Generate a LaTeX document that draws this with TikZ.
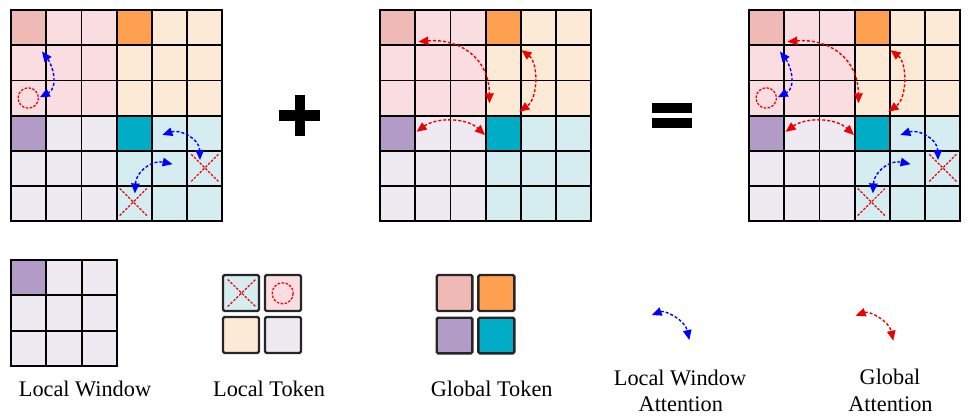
\documentclass[tikz,border=0pt]{standalone}
\usepackage{fontspec}
\setmainfont{Liberation Serif}
\usetikzlibrary{arrows.meta}
\definecolor{pinkL}{HTML}{FADDE1}
\definecolor{pinkG}{HTML}{EFB9B5}
\definecolor{peachL}{HTML}{FDEAD6}
\definecolor{orangeG}{HTML}{FFA050}
\definecolor{lavL}{HTML}{EFEAF2}
\definecolor{purpleG}{HTML}{B39BC7}
\definecolor{cyanL}{HTML}{D5EDF1}
\definecolor{tealG}{HTML}{00ACC6}
\definecolor{attBlue}{HTML}{0000FF}
\definecolor{attRed}{HTML}{EE0000}
\tikzset{
  cellline/.style={draw=black, line width=1.8pt},
  attn/.style={line width=1.4pt, dash pattern=on 3pt off 2pt,
    {Triangle[length=10pt,width=8.5pt]}-{Triangle[length=10pt,width=8.5pt]}},
  localatt/.style={attn, draw=attBlue},
  globalatt/.style={attn, draw=attRed},
  xmk/.style={draw=attRed, line width=1.2pt, dash pattern=on 2.5pt off 1.5pt},
  lbl/.style={font=\fontsize{22.3}{26.7}\selectfont, anchor=base, inner sep=0pt},
  tokbox/.style={draw=black!85, line width=2.4pt, rounded corners=1.5pt},
  symb/.style={fill=black}
}
\newcommand\tokengrid{%
  \fill[pinkL] (0,0) rectangle (3,3);
  \fill[peachL] (3,0) rectangle (6,3);
  \fill[lavL] (0,3) rectangle (3,6);
  \fill[cyanL] (3,3) rectangle (6,6);
  \fill[pinkG] (0,0) rectangle (1,1);
  \fill[orangeG] (3,0) rectangle (4,1);
  \fill[purpleG] (0,3) rectangle (1,4);
  \fill[tealG] (3,3) rectangle (4,4);
  \foreach \k in {1,...,5} {\draw[cellline] (\k,0) -- (\k,6); \draw[cellline] (0,\k) -- (6,\k);}
  \draw[cellline] (0,0) rectangle (6,6);
}
\newcommand\localmarks[1]{%
  \draw[xmk] (0.49,2.5) circle[radius=0.29];
  \draw[xmk] (5.12,4.10) -- (5.89,4.87) (5.12,4.87) -- (5.89,4.10);
  \draw[xmk] (3.09,5.07) -- (3.86,5.84) (3.09,5.84) -- (3.86,5.07);
  \coordinate (#1b1s) at (0.88,1.18); \coordinate (#1b1e) at (0.82,2.48);
  \coordinate (#1b2s) at (4.30,3.55); \coordinate (#1b2e) at (5.37,4.26);
  \coordinate (#1b3s) at (3.52,5.21); \coordinate (#1b3e) at (4.59,4.38);
  \draw[localatt] (#1b1s) .. controls (1.2,1.6) and (1.35,2.2) .. (#1b1e);
  \draw[localatt] (#1b2s) .. controls (4.8,3.38) and (5.35,3.65) .. (#1b2e);
  \draw[localatt] (#1b3s) .. controls (3.55,4.6) and (4.0,4.25) .. (#1b3e);
}
\newcommand\globalmarks[1]{%
  \coordinate (#1r1s) at (1.09,0.90); \coordinate (#1r1e) at (3.11,2.65);
  \coordinate (#1r2s) at (4.02,1.14); \coordinate (#1r2e) at (3.96,2.89);
  \coordinate (#1r3s) at (1.04,3.46); \coordinate (#1r3e) at (2.98,3.55);
  \draw[globalatt] (#1r1s) .. controls (2.3,0.8) and (3.1,1.4) .. (#1r1e);
  \draw[globalatt] (#1r2s) .. controls (4.5,1.5) and (4.5,2.5) .. (#1r2e);
  \draw[globalatt] (#1r3s) .. controls (1.6,3.05) and (2.45,3.05) .. (#1r3e);
}
\begin{document}
\begin{tikzpicture}[x=1pt,y=-1pt]
\useasboundingbox (0,0) rectangle (969,420);
% grid 1: local
\begin{scope}[shift={(11,10)},x=35.2pt,y=-35.2pt]
  \tokengrid
  \localmarks{ga}
\end{scope}
% plus
\fill[symb] (294.5,95) rectangle (305,136);
\fill[symb] (279,110) rectangle (320,120.5);
% grid 2: global
\begin{scope}[shift={(380,10)},x=35.2pt,y=-35.2pt]
  \tokengrid
  \globalmarks{gb}
\end{scope}
% equals
\fill[symb] (651.7,102.7) rectangle (691.7,113.3);
\fill[symb] (651.7,118) rectangle (691.7,128.3);
% grid 3: both
\begin{scope}[shift={(749,10)},x=35.2pt,y=-35.2pt]
  \tokengrid
  \globalmarks{gc}
  \localmarks{gc}
\end{scope}
% legend: local window
\begin{scope}[shift={(11,260)},x=35.33pt,y=-35.33pt]
  \fill[lavL] (0,0) rectangle (3,3);
  \fill[purpleG] (0,0) rectangle (1,1);
  \foreach \k in {1,2} {\draw[cellline] (\k,0) -- (\k,3); \draw[cellline] (0,\k) -- (3,\k);}
  \draw[cellline] (0,0) rectangle (3,3);
\end{scope}
\node[lbl] (lw) at (85,396.7) {Local Window};
% legend: local token
\draw[tokbox, fill=cyanL] (223,275) rectangle (259,311);
\draw[xmk] (227.7,279.5) -- (255.5,306.5) (227.7,306.5) -- (255.5,279.5);
\draw[tokbox, fill=pinkL] (265,275) rectangle (301,311);
\draw[xmk] (282.7,293.3) circle[radius=10.5];
\draw[tokbox, fill=peachL] (223,317) rectangle (259,353);
\draw[tokbox, fill=lavL] (265,317) rectangle (301,353);
\node[lbl] (lt) at (269,396.7) {Local Token};
% legend: global token
\draw[tokbox, fill=pinkG] (436.7,275) rectangle (472.3,311);
\draw[tokbox, fill=orangeG] (478.3,275) rectangle (514.3,311);
\draw[tokbox, fill=purpleG] (436.7,317.7) rectangle (472.3,353.3);
\draw[tokbox, fill=tealG] (478.3,317.7) rectangle (514.3,353.3);
\node[lbl] (gt) at (491.7,396.7) {Global Token};
% legend: attention arrows
\coordinate (lwas) at (651.7,315); \coordinate (lwae) at (689.3,340);
\draw[localatt] (lwas) .. controls (665,310) and (685,320) .. (lwae);
\node[lbl] (lwa1) at (680,385) {Local Window};
\node[lbl] (lwa2) at (680.8,411.7) {Attention};
\coordinate (gas) at (855.7,315.7); \coordinate (gae) at (893.3,340.7);
\draw[globalatt] (gas) .. controls (869,310.7) and (889,320.7) .. (gae);
\node[lbl] (ga1) at (890,384.3) {Global};
\node[lbl] (ga2) at (890.5,411.7) {Attention};
\end{tikzpicture}
\end{document}
